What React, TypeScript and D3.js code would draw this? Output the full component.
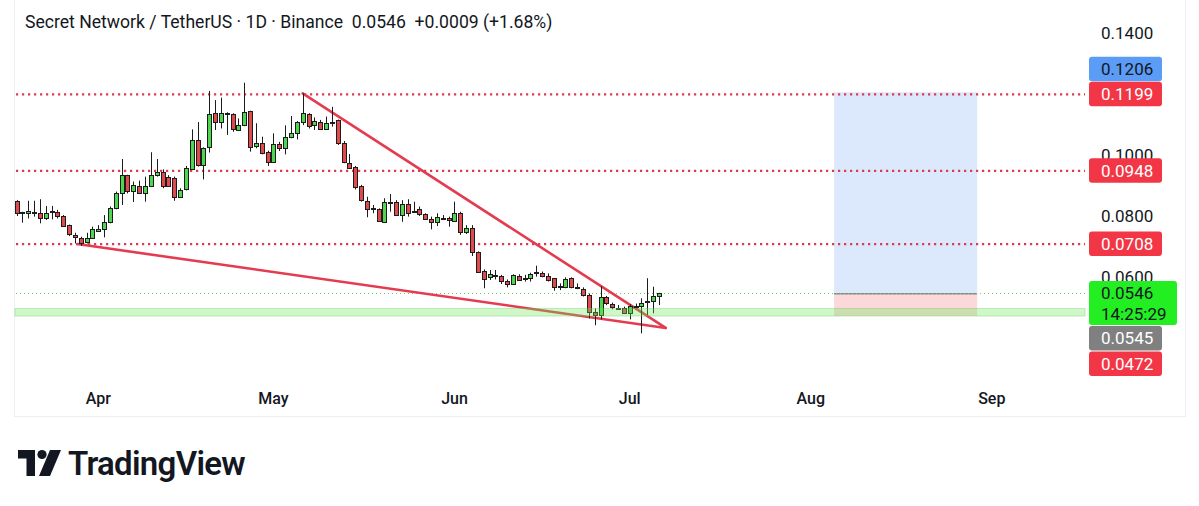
import React, { useEffect, useRef } from 'react';
import * as d3 from 'd3';

const DAY = 86400000;
const startDay = Date.UTC(2025, 2, 18);

// daily candles, SCRT/USDT, Mar 18 -> Jul 6
const opens = [
  0.0850, 0.0812, 0.0811, 0.0812, 0.0811, 0.0794, 0.0816, 0.0814, 0.0800, 0.0769,
  0.0738, 0.0729, 0.0714, 0.0729, 0.0754, 0.0757, 0.0779, 0.0826, 0.0876, 0.0934,
  0.0882, 0.0897, 0.0874, 0.0898, 0.0933, 0.0943, 0.0927, 0.0926, 0.0863, 0.0886,
  0.0956, 0.1050, 0.0967, 0.1024, 0.1137, 0.1109, 0.1137, 0.1133, 0.1082, 0.1101,
  0.1144, 0.1027, 0.1038, 0.1009, 0.0977, 0.1035, 0.1022, 0.1058, 0.1071, 0.1107,
  0.1136, 0.1098, 0.1109, 0.1087, 0.1109, 0.1115, 0.1038, 0.0975, 0.0960, 0.0898,
  0.0850, 0.0826, 0.0822, 0.0781, 0.0847, 0.0846, 0.0803, 0.0839, 0.0818, 0.0822,
  0.0806, 0.0789, 0.0781, 0.0795, 0.0795, 0.0784, 0.0811, 0.0749, 0.0762, 0.0683,
  0.0621, 0.0599, 0.0607, 0.0604, 0.0588, 0.0577, 0.0604, 0.0598, 0.0596, 0.0615,
  0.0612, 0.0604, 0.0596, 0.0572, 0.0566, 0.0596, 0.0566, 0.0560, 0.0541, 0.0486,
  0.0475, 0.0535, 0.0510, 0.0499, 0.0499, 0.0483, 0.0505, 0.0503, 0.0519, 0.0519,
  0.0537,
];
const highs = [
  0.0852, 0.0814, 0.0850, 0.0850, 0.0855, 0.0833, 0.0833, 0.0820, 0.0803, 0.0772,
  0.0745, 0.0732, 0.0745, 0.0765, 0.0770, 0.0803, 0.0831, 0.0880, 0.0987, 0.0935,
  0.0913, 0.0916, 0.0929, 0.1009, 0.0987, 0.0953, 0.0934, 0.0929, 0.0891, 0.0964,
  0.1084, 0.1108, 0.1025, 0.1210, 0.1180, 0.1188, 0.1140, 0.1137, 0.1120, 0.1237,
  0.1145, 0.1104, 0.1060, 0.1014, 0.1071, 0.1043, 0.1097, 0.1128, 0.1111, 0.1202,
  0.1137, 0.1123, 0.1115, 0.1126, 0.1158, 0.1116, 0.1046, 0.1003, 0.0964, 0.0902,
  0.0863, 0.0836, 0.0825, 0.0858, 0.0872, 0.0852, 0.0852, 0.0855, 0.0847, 0.0831,
  0.0809, 0.0798, 0.0809, 0.0803, 0.0798, 0.0847, 0.0814, 0.0770, 0.0770, 0.0684,
  0.0625, 0.0623, 0.0623, 0.0607, 0.0592, 0.0609, 0.0609, 0.0607, 0.0614, 0.0637,
  0.0618, 0.0612, 0.0597, 0.0579, 0.0599, 0.0599, 0.0579, 0.0566, 0.0546, 0.0497,
  0.0570, 0.0538, 0.0516, 0.0508, 0.0503, 0.0511, 0.0513, 0.0530, 0.0596, 0.0568,
  0.0548,
];
const lows = [
  0.0800, 0.0778, 0.0792, 0.0798, 0.0776, 0.0787, 0.0789, 0.0792, 0.0765, 0.0734,
  0.0710, 0.0702, 0.0710, 0.0726, 0.0752, 0.0730, 0.0776, 0.0822, 0.0836, 0.0874,
  0.0846, 0.0872, 0.0847, 0.0896, 0.0929, 0.0891, 0.0896, 0.0850, 0.0860, 0.0884,
  0.0953, 0.0962, 0.0920, 0.1008, 0.1082, 0.1087, 0.1066, 0.1076, 0.1080, 0.1095,
  0.1011, 0.1022, 0.1002, 0.0964, 0.0975, 0.1013, 0.1002, 0.1055, 0.1051, 0.1098,
  0.1087, 0.1082, 0.1082, 0.1082, 0.1093, 0.1033, 0.0973, 0.0956, 0.0887, 0.0847,
  0.0796, 0.0809, 0.0781, 0.0778, 0.0814, 0.0800, 0.0781, 0.0798, 0.0811, 0.0800,
  0.0787, 0.0756, 0.0767, 0.0787, 0.0765, 0.0781, 0.0738, 0.0741, 0.0669, 0.0614,
  0.0563, 0.0590, 0.0592, 0.0577, 0.0566, 0.0574, 0.0588, 0.0585, 0.0585, 0.0601,
  0.0599, 0.0585, 0.0555, 0.0557, 0.0563, 0.0563, 0.0560, 0.0536, 0.0464, 0.0442,
  0.0461, 0.0508, 0.0494, 0.0492, 0.0481, 0.0461, 0.0497, 0.0415, 0.0475, 0.0481,
  0.0508,
];
const closes = [
  0.0811, 0.0810, 0.0816, 0.0814, 0.0794, 0.0811, 0.0817, 0.0800, 0.0768, 0.0740,
  0.0732, 0.0714, 0.0728, 0.0759, 0.0759, 0.0779, 0.0826, 0.0876, 0.0934, 0.0882,
  0.0901, 0.0874, 0.0898, 0.0934, 0.0943, 0.0898, 0.0898, 0.0863, 0.0886, 0.0956,
  0.1050, 0.0967, 0.1024, 0.1133, 0.1109, 0.1137, 0.1136, 0.1084, 0.1098, 0.1142,
  0.1027, 0.1038, 0.1006, 0.0977, 0.1036, 0.1022, 0.1058, 0.1071, 0.1107, 0.1137,
  0.1098, 0.1112, 0.1087, 0.1106, 0.1108, 0.1038, 0.0975, 0.0960, 0.0896, 0.0852,
  0.0825, 0.0825, 0.0784, 0.0847, 0.0846, 0.0803, 0.0839, 0.0811, 0.0817, 0.0805,
  0.0789, 0.0778, 0.0796, 0.0794, 0.0787, 0.0811, 0.0749, 0.0762, 0.0683, 0.0617,
  0.0596, 0.0610, 0.0606, 0.0588, 0.0577, 0.0607, 0.0590, 0.0597, 0.0610, 0.0614,
  0.0601, 0.0592, 0.0568, 0.0571, 0.0592, 0.0566, 0.0565, 0.0541, 0.0486, 0.0475,
  0.0535, 0.0514, 0.0499, 0.0498, 0.0483, 0.0505, 0.0504, 0.0514, 0.0520, 0.0537,
  0.0546,
];

const monthStarts = [Date.UTC(2025, 3, 1), Date.UTC(2025, 4, 1), Date.UTC(2025, 5, 1), Date.UTC(2025, 6, 1), Date.UTC(2025, 7, 1), Date.UTC(2025, 8, 1)];
const priceTicks = [0.04, 0.06, 0.08, 0.1, 0.12, 0.14];
const levelLines = [0.1199, 0.0948, 0.0708];
const lastPrice = 0.0546;
const supportZone = [0.0472, 0.0497];
const wedgeUpper: [number, number][] = [[Date.UTC(2025, 4, 6), 0.1202], [Date.UTC(2025, 6, 7, 4), 0.0433]];
const wedgeLower: [number, number][] = [[Date.UTC(2025, 2, 28, 10), 0.0708], [Date.UTC(2025, 6, 7, 4), 0.0433]];
const positionDates = [Date.UTC(2025, 7, 5), Date.UTC(2025, 7, 29, 12)];
const positionPrices = { target: 0.1206, entry: 0.0545, stop: 0.0472 };

const axisLabels = [
  { value: 0.1206, lines: ['0.1206'], fill: '#5b9cf6', text: '#131722', pinned: false },
  { value: 0.1199, lines: ['0.1199'], fill: '#f23645', text: '#ffffff', pinned: true },
  { value: 0.0948, lines: ['0.0948'], fill: '#f23645', text: '#ffffff', pinned: true },
  { value: 0.0708, lines: ['0.0708'], fill: '#f23645', text: '#ffffff', pinned: true },
  { value: 0.0546, lines: ['0.0546', '14:25:29'], fill: '#22ee22', text: '#131722', pinned: true },
  { value: 0.0545, lines: ['0.0545'], fill: '#808080', text: '#ffffff', pinned: false },
  { value: 0.0472, lines: ['0.0472'], fill: '#f23645', text: '#ffffff', pinned: false },
];

const title = 'Secret Network / TetherUS \u00b7 1D \u00b7 Binance  0.0546  +0.0009 (+1.68%)';

const W = 1199;
const H = 506;
const FONT = 'Roboto, "Noto Sans", sans-serif';

const App = () => {
  const ref = useRef<SVGSVGElement>(null);

  useEffect(() => {
    const svg = d3.select(ref.current);
    svg.selectAll('*').remove();

    const x = d3.scaleUtc()
      .domain([startDay, startDay + 110 * DAY])
      .range([16.5, 16.5 + 110 * 5.84]);
    const y = d3.scaleLinear().domain([0.04, 0.14]).range([338, 33]);

    const plotLeft = 14;
    const plotRight = 1085;

    svg.append('rect').attr('width', W).attr('height', H).attr('fill', '#ffffff');

    // frame
    svg.append('rect')
      .attr('x', 14.5).attr('y', -1).attr('width', 1171).attr('height', 417.5)
      .attr('fill', 'none').attr('stroke', '#eceef2');

    // position tool
    const px0 = x(positionDates[0]);
    const px1 = x(positionDates[1]);
    svg.append('rect')
      .attr('x', px0).attr('width', px1 - px0)
      .attr('y', y(positionPrices.target)).attr('height', y(positionPrices.entry) - y(positionPrices.target))
      .attr('fill', '#dce8fb');
    svg.append('rect')
      .attr('x', px0).attr('width', px1 - px0)
      .attr('y', y(positionPrices.entry)).attr('height', y(positionPrices.stop) - y(positionPrices.entry))
      .attr('fill', '#fbd9da');
    svg.append('line')
      .attr('x1', px0).attr('x2', px1)
      .attr('y1', y(positionPrices.entry)).attr('y2', y(positionPrices.entry))
      .attr('stroke', '#8a8a8a').attr('stroke-width', 1.5);

    // dotted levels
    svg.selectAll('.lvl').data(levelLines).enter().append('line')
      .attr('x1', plotLeft + 2).attr('x2', plotRight)
      .attr('y1', (d) => y(d)).attr('y2', (d) => y(d))
      .attr('stroke', '#dc3a52').attr('stroke-width', 2.2)
      .attr('stroke-dasharray', '2.2,3.8');

    svg.append('line')
      .attr('x1', plotLeft + 2).attr('x2', plotRight)
      .attr('y1', y(lastPrice)).attr('y2', y(lastPrice))
      .attr('stroke', '#6bcf6b').attr('stroke-width', 1)
      .attr('stroke-dasharray', '1,3');

    // wedge
    const line = d3.line<[number, number]>().x((d) => x(d[0])).y((d) => y(d[1]));
    [wedgeUpper, wedgeLower].forEach((pts) => {
      svg.append('path').attr('d', line(pts))
        .attr('fill', 'none').attr('stroke', '#e53b50').attr('stroke-width', 2.6)
        .attr('stroke-linecap', 'round');
    });

    // candles
    const idx = d3.range(closes.length);
    const g = svg.append('g');
    idx.forEach((i) => {
      const cx = Math.round(x(startDay + i * DAY)) + 0.5;
      const up = closes[i] >= opens[i];
      g.append('line')
        .attr('x1', cx).attr('x2', cx)
        .attr('y1', y(highs[i])).attr('y2', y(lows[i]))
        .attr('stroke', '#1c1c1c').attr('stroke-width', 1);
      const top = y(Math.max(opens[i], closes[i]));
      const bot = y(Math.min(opens[i], closes[i]));
      const h = Math.max(1, bot - top);
      g.append('rect')
        .attr('x', cx - 2).attr('width', 4)
        .attr('y', Math.round(top) + 0.5).attr('height', Math.round(h))
        .attr('fill', up ? '#4fd64f' : '#e04a4c')
        .attr('stroke', '#1c1c1c').attr('stroke-width', 1);
    });

    // green support band, drawn on top
    svg.append('rect')
      .attr('x', plotLeft + 1).attr('width', plotRight - plotLeft - 1)
      .attr('y', y(supportZone[1])).attr('height', y(supportZone[0]) - y(supportZone[1]))
      .attr('fill', 'rgba(110, 230, 90, 0.32)')
      .attr('stroke', 'rgba(90, 210, 70, 0.35)').attr('stroke-width', 1);

    // month axis
    svg.selectAll('.month').data(monthStarts).enter().append('text')
      .attr('x', (d) => x(d)).attr('y', 398)
      .attr('text-anchor', 'middle').attr('dominant-baseline', 'central')
      .style('font-family', FONT).style('font-size', '16px').style('font-weight', 500)
      .attr('fill', '#131722')
      .text((d) => d3.utcFormat('%b')(new Date(d)));

    // price axis ticks
    svg.selectAll('.tick').data(priceTicks).enter().append('text')
      .attr('x', 1101).attr('y', (d) => y(d))
      .attr('dominant-baseline', 'central')
      .style('font-family', FONT).style('font-size', '17px')
      .attr('fill', '#131722')
      .text((d) => d3.format('.4f')(d));

    // axis labels with simple stacking
    const boxes = axisLabels
      .map((l) => {
        const h = l.lines.length > 1 ? 44 : 24.5;
        const top = y(l.value) - 12.5;
        return { ...l, h, top };
      })
      .sort((a, b) => a.top - b.top);
    for (let i = 1; i < boxes.length; i++) {
      const prev = boxes[i - 1];
      if (!boxes[i].pinned && boxes[i].top < prev.top + prev.h + 1) boxes[i].top = prev.top + prev.h + 1;
    }
    for (let i = boxes.length - 2; i >= 0; i--) {
      const next = boxes[i + 1];
      if (!boxes[i].pinned && boxes[i].top + boxes[i].h > next.top - 0.5) boxes[i].top = next.top - 0.5 - boxes[i].h;
    }
    boxes.forEach((b) => {
      svg.append('rect')
        .attr('x', 1089).attr('y', b.top)
        .attr('width', b.lines.length > 1 ? 88 : 73).attr('height', b.h)
        .attr('rx', 3).attr('fill', b.fill);
      b.lines.forEach((t, k) => {
        svg.append('text')
          .attr('x', 1101).attr('y', b.top + 12.5 + k * 21)
          .attr('dominant-baseline', 'central')
          .style('font-family', FONT).style('font-size', '17px')
          .attr('fill', b.text)
          .text(t);
      });
    });

    // title
    svg.append('text')
      .attr('x', 25).attr('y', 22)
      .attr('dominant-baseline', 'central')
      .style('font-family', FONT).style('font-size', '17.6px')
      .style('white-space', 'pre')
      .attr('fill', '#131722')
      .text(title);

    // TradingView logo
    const logo = svg.append('g').attr('fill', '#131722');
    logo.append('path').attr('d', 'M18,450 H35 V476 H26.5 V458.5 H18 Z');
    logo.append('circle').attr('cx', 42).attr('cy', 454.5).attr('r', 4.6);
    logo.append('path').attr('d', 'M50,450 H61 L50,476 H39 Z');
    logo.append('text')
      .attr('x', 68).attr('y', 475)
      .style('font-family', FONT).style('font-size', '33px').style('font-weight', 600)
      .style('letter-spacing', '-0.7px')
      .text('TradingView');
  }, []);

  return (
    <svg ref={ref} width={W} height={H} style={{ position: 'absolute', left: 0, top: 0 }} />
  );
};

export default App;
